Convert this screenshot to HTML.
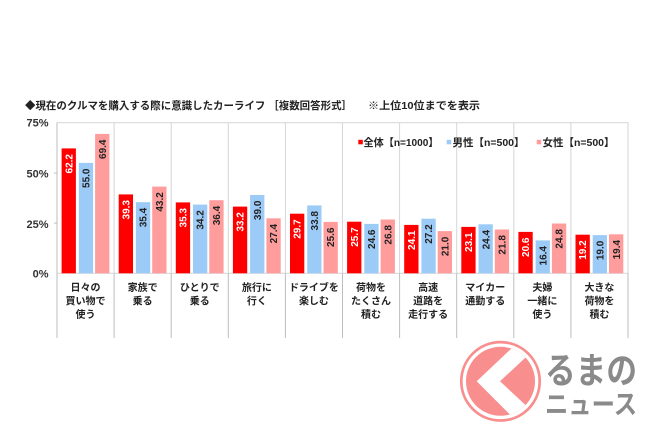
<!DOCTYPE html>
<html><head><meta charset="utf-8"><style>
html,body{margin:0;padding:0;background:#fff;}
svg{display:block;}
text{font-family:"Liberation Sans","Noto Sans CJK JP",sans-serif;font-weight:bold;fill:#222;}
text.w{fill:#fff;}
text.g{fill:#8a8a8a;}
text.y{fill:#333;}
</style></head><body>
<svg width="650" height="433" viewBox="0 0 650 433" xmlns="http://www.w3.org/2000/svg">
<rect width="650" height="433" fill="#fff"/>
<!-- title -->
<text x="25" y="109" font-size="10.5" textLength="327" lengthAdjust="spacingAndGlyphs">◆現在のクルマを購入する際に意識したカーライフ ［複数回答形式］</text>
<text x="368" y="109" font-size="10.5" textLength="112" lengthAdjust="spacingAndGlyphs">※上位10位までを表示</text>

<!-- plot frame & grid -->
<g stroke="#d6d6d6" stroke-width="1" fill="none">
<rect x="57" y="122.7" width="571" height="150.6"/>
<line x1="114.1" y1="122.7" x2="114.1" y2="273.3"/>
<line x1="171.2" y1="122.7" x2="171.2" y2="273.3"/>
<line x1="228.3" y1="122.7" x2="228.3" y2="273.3"/>
<line x1="285.4" y1="122.7" x2="285.4" y2="273.3"/>
<line x1="342.5" y1="122.7" x2="342.5" y2="273.3"/>
<line x1="399.6" y1="122.7" x2="399.6" y2="273.3"/>
<line x1="456.7" y1="122.7" x2="456.7" y2="273.3"/>
<line x1="513.8" y1="122.7" x2="513.8" y2="273.3"/>
<line x1="570.9" y1="122.7" x2="570.9" y2="273.3"/>
</g>
<g stroke="#bdbdbd" stroke-width="1">
<line x1="57" y1="273.3" x2="57" y2="338"/>
<line x1="114.1" y1="273.3" x2="114.1" y2="338"/>
<line x1="171.2" y1="273.3" x2="171.2" y2="338"/>
<line x1="228.3" y1="273.3" x2="228.3" y2="338"/>
<line x1="285.4" y1="273.3" x2="285.4" y2="338"/>
<line x1="342.5" y1="273.3" x2="342.5" y2="338"/>
<line x1="399.6" y1="273.3" x2="399.6" y2="338"/>
<line x1="456.7" y1="273.3" x2="456.7" y2="338"/>
<line x1="513.8" y1="273.3" x2="513.8" y2="338"/>
<line x1="570.9" y1="273.3" x2="570.9" y2="338"/>
<line x1="628" y1="273.3" x2="628" y2="338"/>
<line x1="57" y1="122.7" x2="57" y2="273.3"/>
<line x1="54" y1="173" x2="57" y2="173"/>
<line x1="54" y1="223.1" x2="57" y2="223.1"/>
</g>

<!-- y labels -->
<g font-size="11" text-anchor="end">
<text class="y" x="48.5" y="126.7">75%</text>
<text class="y" x="48.5" y="177.3">50%</text>
<text class="y" x="48.5" y="228">25%</text>
<text class="y" x="48.5" y="277.3">0%</text>
</g>

<!-- bars -->
<g fill="#FF0000">
<rect x="61.6" y="148.4" width="14.3" height="124.9"/>
<rect x="118.7" y="194.4" width="14.3" height="78.9"/>
<rect x="175.8" y="202.4" width="14.3" height="70.9"/>
<rect x="232.9" y="206.6" width="14.3" height="66.7"/>
<rect x="290.0" y="213.7" width="14.3" height="59.6"/>
<rect x="347.1" y="221.7" width="14.3" height="51.6"/>
<rect x="404.2" y="224.9" width="14.3" height="48.4"/>
<rect x="461.3" y="226.9" width="14.3" height="46.4"/>
<rect x="518.4" y="231.9" width="14.3" height="41.4"/>
<rect x="575.5" y="234.7" width="14.3" height="38.6"/>
</g>
<g fill="#9DCBF7">
<rect x="78.8" y="162.9" width="14.3" height="110.4"/>
<rect x="135.9" y="202.2" width="14.3" height="71.1"/>
<rect x="193.0" y="204.6" width="14.3" height="68.7"/>
<rect x="250.1" y="195.0" width="14.3" height="78.3"/>
<rect x="307.2" y="205.4" width="14.3" height="67.9"/>
<rect x="364.3" y="223.9" width="14.3" height="49.4"/>
<rect x="421.4" y="218.7" width="14.3" height="54.6"/>
<rect x="478.5" y="224.3" width="14.3" height="49.0"/>
<rect x="535.6" y="240.4" width="14.3" height="32.9"/>
<rect x="592.7" y="235.1" width="14.3" height="38.2"/>
</g>
<g fill="#FF9C9C">
<rect x="95.1" y="133.9" width="14.3" height="139.4"/>
<rect x="152.2" y="186.6" width="14.3" height="86.7"/>
<rect x="209.3" y="200.2" width="14.3" height="73.1"/>
<rect x="266.4" y="218.3" width="14.3" height="55.0"/>
<rect x="323.5" y="221.9" width="14.3" height="51.4"/>
<rect x="380.6" y="219.5" width="14.3" height="53.8"/>
<rect x="437.7" y="231.1" width="14.3" height="42.2"/>
<rect x="494.8" y="229.5" width="14.3" height="43.8"/>
<rect x="551.9" y="223.5" width="14.3" height="49.8"/>
<rect x="609.0" y="234.3" width="14.3" height="39.0"/>
</g>

<!-- value labels (rotated) -->
<g font-size="10" text-anchor="end">
<text class="w" x="68.75" y="154" dy="0.36em" transform="rotate(-90 68.75 154)">62.2</text>
<text class="w" x="125.85" y="200" dy="0.36em" transform="rotate(-90 125.85 200)">39.3</text>
<text class="w" x="182.95" y="208" dy="0.36em" transform="rotate(-90 182.95 208)">35.3</text>
<text class="w" x="240.05" y="212.2" dy="0.36em" transform="rotate(-90 240.05 212.2)">33.2</text>
<text class="w" x="297.15" y="219.3" dy="0.36em" transform="rotate(-90 297.15 219.3)">29.7</text>
<text class="w" x="354.25" y="227.3" dy="0.36em" transform="rotate(-90 354.25 227.3)">25.7</text>
<text class="w" x="411.35" y="230.5" dy="0.36em" transform="rotate(-90 411.35 230.5)">24.1</text>
<text class="w" x="468.45" y="232.5" dy="0.36em" transform="rotate(-90 468.45 232.5)">23.1</text>
<text class="w" x="525.55" y="237.5" dy="0.36em" transform="rotate(-90 525.55 237.5)">20.6</text>
<text class="w" x="582.65" y="240.3" dy="0.36em" transform="rotate(-90 582.65 240.3)">19.2</text>
</g>
<g font-size="10" text-anchor="end">
<text x="85.95" y="168.5" dy="0.36em" transform="rotate(-90 85.95 168.5)">55.0</text>
<text x="143.05" y="207.8" dy="0.36em" transform="rotate(-90 143.05 207.8)">35.4</text>
<text x="200.15" y="210.2" dy="0.36em" transform="rotate(-90 200.15 210.2)">34.2</text>
<text x="257.25" y="200.6" dy="0.36em" transform="rotate(-90 257.25 200.6)">39.0</text>
<text x="314.35" y="211" dy="0.36em" transform="rotate(-90 314.35 211)">33.8</text>
<text x="371.45" y="229.5" dy="0.36em" transform="rotate(-90 371.45 229.5)">24.6</text>
<text x="428.55" y="224.3" dy="0.36em" transform="rotate(-90 428.55 224.3)">27.2</text>
<text x="485.65" y="229.9" dy="0.36em" transform="rotate(-90 485.65 229.9)">24.4</text>
<text x="542.75" y="246" dy="0.36em" transform="rotate(-90 542.75 246)">16.4</text>
<text x="599.85" y="240.7" dy="0.36em" transform="rotate(-90 599.85 240.7)">19.0</text>

<text x="102.25" y="139.5" dy="0.36em" transform="rotate(-90 102.25 139.5)">69.4</text>
<text x="159.35" y="192.2" dy="0.36em" transform="rotate(-90 159.35 192.2)">43.2</text>
<text x="216.45" y="205.8" dy="0.36em" transform="rotate(-90 216.45 205.8)">36.4</text>
<text x="273.55" y="223.9" dy="0.36em" transform="rotate(-90 273.55 223.9)">27.4</text>
<text x="330.65" y="227.5" dy="0.36em" transform="rotate(-90 330.65 227.5)">25.6</text>
<text x="387.75" y="225.1" dy="0.36em" transform="rotate(-90 387.75 225.1)">26.8</text>
<text x="444.85" y="236.7" dy="0.36em" transform="rotate(-90 444.85 236.7)">21.0</text>
<text x="501.95" y="235.1" dy="0.36em" transform="rotate(-90 501.95 235.1)">21.8</text>
<text x="559.05" y="229.1" dy="0.36em" transform="rotate(-90 559.05 229.1)">24.8</text>
<text x="616.15" y="239.9" dy="0.36em" transform="rotate(-90 616.15 239.9)">19.4</text>
</g>

<!-- legend -->
<rect x="358.3" y="139.8" width="4.5" height="4.5" fill="#FF0000"/>
<text x="363.5" y="146" font-size="10.5" textLength="75" lengthAdjust="spacingAndGlyphs">全体【n=1000】</text>
<rect x="446.7" y="139.8" width="4.5" height="4.5" fill="#9DCBF7"/>
<text x="452.5" y="146" font-size="10.5" textLength="72" lengthAdjust="spacingAndGlyphs">男性【n=500】</text>
<rect x="536.7" y="139.8" width="4.5" height="4.5" fill="#FF9C9C"/>
<text x="542.5" y="146" font-size="10.5" textLength="72" lengthAdjust="spacingAndGlyphs">女性【n=500】</text>

<!-- category labels -->
<g font-size="10" text-anchor="middle">
<text x="85.55" y="290.8">日々の</text>
<text x="85.55" y="304.3">買い物で</text>
<text x="85.55" y="317.8">使う</text>
<text x="142.65" y="290.8">家族で</text>
<text x="142.65" y="304.3">乗る</text>
<text x="199.75" y="290.8">ひとりで</text>
<text x="199.75" y="304.3">乗る</text>
<text x="256.85" y="290.8">旅行に</text>
<text x="256.85" y="304.3">行く</text>
<text x="313.95" y="290.8">ドライブを</text>
<text x="313.95" y="304.3">楽しむ</text>
<text x="371.05" y="290.8">荷物を</text>
<text x="371.05" y="304.3">たくさん</text>
<text x="371.05" y="317.8">積む</text>
<text x="428.15" y="290.8">高速</text>
<text x="428.15" y="304.3">道路を</text>
<text x="428.15" y="317.8">走行する</text>
<text x="485.25" y="290.8">マイカー</text>
<text x="485.25" y="304.3">通勤する</text>
<text x="542.35" y="290.8">夫婦</text>
<text x="542.35" y="304.3">一緒に</text>
<text x="542.35" y="317.8">使う</text>
<text x="599.45" y="290.8">大きな</text>
<text x="599.45" y="304.3">荷物を</text>
<text x="599.45" y="317.8">積む</text>
</g>

<!-- logo -->
<defs><clipPath id="cc"><circle cx="500.5" cy="381.3" r="34.5"/></clipPath></defs>
<circle cx="500.5" cy="381.3" r="39.2" fill="none" stroke="#F88E8E" stroke-width="2.7"/>
<circle cx="500.5" cy="381.3" r="34.5" fill="#F88E8E"/>
<polygon points="476.7,381.3 519,341.3 543,341.3 500,381.3 543,421.3 516.7,421.3" fill="#fff" clip-path="url(#cc)"/>
<text class="g" x="545" y="383" font-size="36" textLength="92" lengthAdjust="spacingAndGlyphs">るまの</text>
<text class="g" x="545" y="414" font-size="27" textLength="92" lengthAdjust="spacingAndGlyphs">ニュース</text>
</svg>
</body></html>
